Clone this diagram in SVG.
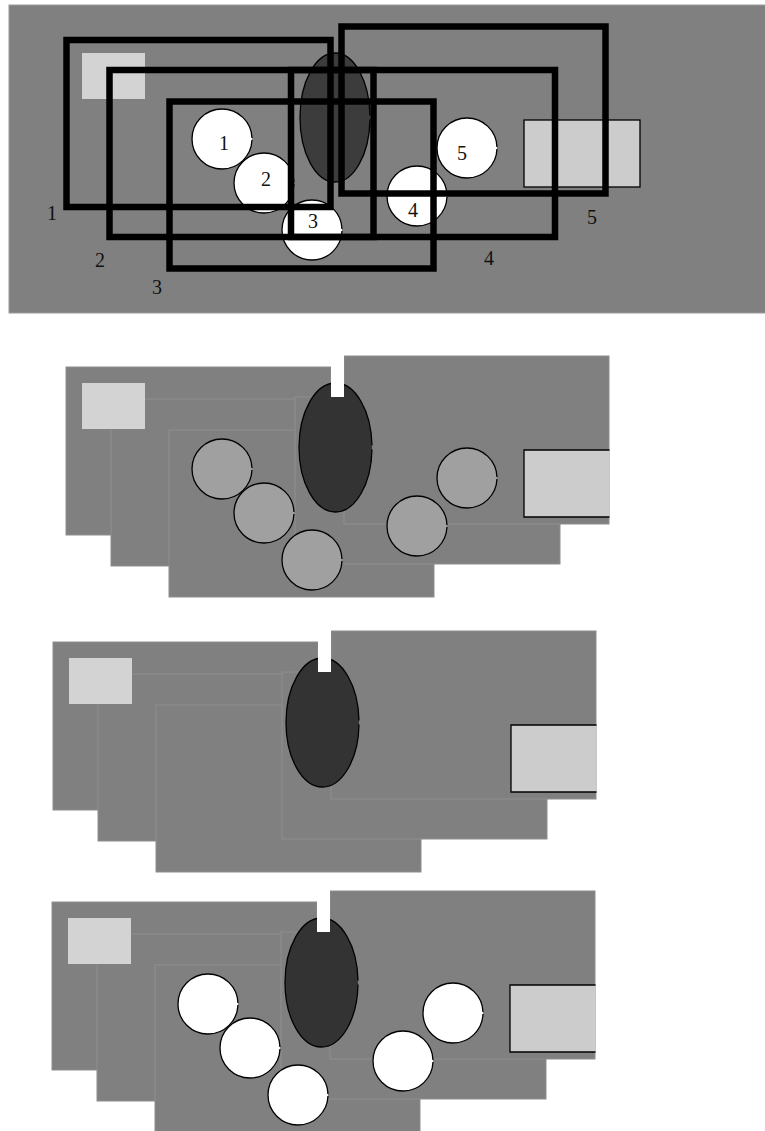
<svg xmlns="http://www.w3.org/2000/svg" xmlns:xlink="http://www.w3.org/1999/xlink" width="765" height="1131" viewBox="0 0 765 1131">
<style>
.bg{fill:#808080;stroke:#9a9a9a;stroke-width:1}
.frame{fill:none;stroke:#000;stroke-width:6.5}
.sheet{fill:#808080;stroke:#8e8e8e;stroke-width:1}
.lt{fill:#d3d3d3}
.lr{fill:#cccccc}
.edge{fill:none;stroke:#000;stroke-width:1.3}
.ell{stroke:#000;stroke-width:1.3;stroke-dasharray:98.8 1.2;stroke-dashoffset:99.4}
.c{stroke:#000;stroke-width:1.3;stroke-dasharray:98.8 1.2;stroke-dashoffset:99.4}
.cw{fill:#ffffff}
.cg{fill:#a0a0a0}
.lbl{font-family:"Liberation Serif","Times New Roman",serif;font-size:20px;fill:#111;text-anchor:middle}
</style>
<defs>
<g id="stack">
<rect class="sheet" x="66" y="367" width="265" height="168"/>
<rect class="sheet" x="111" y="399" width="265" height="167"/>
<rect class="sheet" x="169" y="430" width="265" height="167"/>
<rect class="sheet" x="295" y="397" width="265" height="167"/>
<rect class="sheet" x="344" y="356" width="265" height="168"/>
<rect class="lt" x="82" y="383" width="63" height="46"/>
<ellipse class="ell" pathLength="100" cx="335.5" cy="447.5" rx="36.5" ry="64.5" fill="#333333"/>
<rect x="331" y="354" width="13" height="43" fill="#ffffff"/>
<rect class="lr" x="524" y="450" width="85" height="67"/>
<polyline class="edge" points="609.5,450 524,450 524,517 609.5,517"/>
</g>
<g id="circles">
<circle pathLength="100" cx="222" cy="469" r="30"/>
<circle pathLength="100" cx="264" cy="513" r="30"/>
<circle pathLength="100" cx="312" cy="560" r="30"/>
<circle pathLength="100" cx="417" cy="526" r="30"/>
<circle pathLength="100" cx="467" cy="478" r="30"/>
</g>
</defs>

<g id="panel-overview">
<rect class="bg" x="9" y="5" width="760" height="308"/>
<rect class="lt" x="82" y="53" width="63" height="46"/>
<ellipse class="ell" pathLength="100" cx="335" cy="117.5" rx="35" ry="64.5" fill="#3c3c3c"/>
<rect class="lr" x="524" y="120" width="116" height="67" stroke="#000" stroke-width="1.3"/>
<g id="circle-1"><circle class="c cw" pathLength="100" cx="222" cy="139" r="30"/><text class="lbl" x="224" y="150">1</text></g>
<g id="circle-2"><circle class="c cw" pathLength="100" cx="264" cy="183" r="30"/><text class="lbl" x="266" y="186">2</text></g>
<g id="circle-3"><circle class="c cw" pathLength="100" cx="312" cy="230" r="30"/><text class="lbl" x="313" y="228">3</text></g>
<g id="circle-4"><circle class="c cw" pathLength="100" cx="417" cy="196" r="30"/><text class="lbl" x="413" y="217">4</text></g>
<g id="circle-5"><circle class="c cw" pathLength="100" cx="467" cy="148" r="30"/><text class="lbl" x="462" y="160">5</text></g>
<g id="frame-1"><rect class="frame" x="66.5" y="40" width="264" height="167"/><text class="lbl" x="52" y="220">1</text></g>
<g id="frame-2"><rect class="frame" x="109.5" y="70" width="264" height="167"/><text class="lbl" x="100" y="267">2</text></g>
<g id="frame-3"><rect class="frame" x="169.5" y="101.5" width="264" height="167"/><text class="lbl" x="157" y="294">3</text></g>
<g id="frame-4"><rect class="frame" x="291" y="70" width="264" height="167"/><text class="lbl" x="489" y="265">4</text></g>
<g id="frame-5"><rect class="frame" x="341.5" y="26.5" width="264" height="167"/><text class="lbl" x="592" y="224">5</text></g>
</g>

<g id="panel-grey-circles">
<use xlink:href="#stack" href="#stack"/>
<use xlink:href="#circles" href="#circles" class="c cg"/>
</g>

<g id="panel-no-circles" transform="translate(-13,275)">
<use xlink:href="#stack" href="#stack"/>
</g>

<g id="panel-white-circles" transform="translate(-14,535)">
<use xlink:href="#stack" href="#stack"/>
<use xlink:href="#circles" href="#circles" class="c cw"/>
</g>

<g id="connectors"/>
</svg>
